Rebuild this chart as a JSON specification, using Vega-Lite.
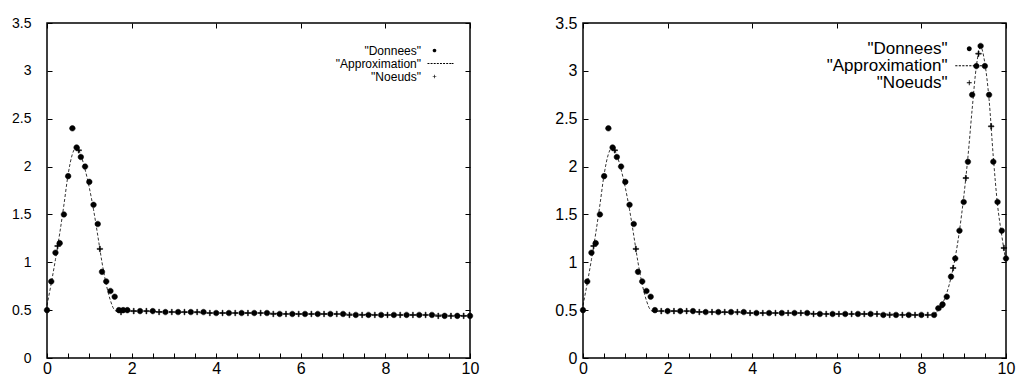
{
  "$schema": "https://vega.github.io/schema/vega-lite/v6.json",
  "padding": {"left": 10, "top": 14, "right": 0, "bottom": 2},
  "config": {
    "font": "Liberation Sans",
    "view": {"stroke": "black", "strokeWidth": 1.5},
    "axis": {"grid": false, "domain": false, "title": null, "tickColor": "black", "tickWidth": 1, "labelColor": "black", "labelFont": "Liberation Sans"}
  },
  "spacing": 74,
  "resolve": {"scale": {"shape": "independent"}, "legend": {"shape": "independent"}},
  "datasets": {
    "pts": [
      {"panel": "L", "series": "\"Donnees\"", "x": 0, "y": 0.5},
      {"panel": "L", "series": "\"Donnees\"", "x": 0.1, "y": 0.8},
      {"panel": "L", "series": "\"Donnees\"", "x": 0.2, "y": 1.1},
      {"panel": "L", "series": "\"Donnees\"", "x": 0.3, "y": 1.2},
      {"panel": "L", "series": "\"Donnees\"", "x": 0.4, "y": 1.5},
      {"panel": "L", "series": "\"Donnees\"", "x": 0.5, "y": 1.9},
      {"panel": "L", "series": "\"Donnees\"", "x": 0.6, "y": 2.4},
      {"panel": "L", "series": "\"Donnees\"", "x": 0.7, "y": 2.2},
      {"panel": "L", "series": "\"Donnees\"", "x": 0.8, "y": 2.1},
      {"panel": "L", "series": "\"Donnees\"", "x": 0.9, "y": 2.0},
      {"panel": "L", "series": "\"Donnees\"", "x": 1.0, "y": 1.84},
      {"panel": "L", "series": "\"Donnees\"", "x": 1.1, "y": 1.6},
      {"panel": "L", "series": "\"Donnees\"", "x": 1.2, "y": 1.4},
      {"panel": "L", "series": "\"Donnees\"", "x": 1.3, "y": 0.9},
      {"panel": "L", "series": "\"Donnees\"", "x": 1.4, "y": 0.8},
      {"panel": "L", "series": "\"Donnees\"", "x": 1.5, "y": 0.7},
      {"panel": "L", "series": "\"Donnees\"", "x": 1.6, "y": 0.64},
      {"panel": "L", "series": "\"Donnees\"", "x": 1.7, "y": 0.5},
      {"panel": "L", "series": "\"Donnees\"", "x": 1.8, "y": 0.5},
      {"panel": "L", "series": "\"Donnees\"", "x": 1.9, "y": 0.5},
      {"panel": "L", "series": "\"Donnees\"", "x": 2.2, "y": 0.49},
      {"panel": "L", "series": "\"Donnees\"", "x": 2.5, "y": 0.49},
      {"panel": "L", "series": "\"Donnees\"", "x": 2.8, "y": 0.48},
      {"panel": "L", "series": "\"Donnees\"", "x": 3.1, "y": 0.48},
      {"panel": "L", "series": "\"Donnees\"", "x": 3.4, "y": 0.48},
      {"panel": "L", "series": "\"Donnees\"", "x": 3.7, "y": 0.48},
      {"panel": "L", "series": "\"Donnees\"", "x": 4.0, "y": 0.47},
      {"panel": "L", "series": "\"Donnees\"", "x": 4.3, "y": 0.47},
      {"panel": "L", "series": "\"Donnees\"", "x": 4.6, "y": 0.47},
      {"panel": "L", "series": "\"Donnees\"", "x": 4.9, "y": 0.47},
      {"panel": "L", "series": "\"Donnees\"", "x": 5.2, "y": 0.47},
      {"panel": "L", "series": "\"Donnees\"", "x": 5.5, "y": 0.46},
      {"panel": "L", "series": "\"Donnees\"", "x": 5.8, "y": 0.46},
      {"panel": "L", "series": "\"Donnees\"", "x": 6.1, "y": 0.46},
      {"panel": "L", "series": "\"Donnees\"", "x": 6.4, "y": 0.46},
      {"panel": "L", "series": "\"Donnees\"", "x": 6.7, "y": 0.46},
      {"panel": "L", "series": "\"Donnees\"", "x": 7.0, "y": 0.46},
      {"panel": "L", "series": "\"Donnees\"", "x": 7.3, "y": 0.45},
      {"panel": "L", "series": "\"Donnees\"", "x": 7.6, "y": 0.45},
      {"panel": "L", "series": "\"Donnees\"", "x": 7.9, "y": 0.45},
      {"panel": "L", "series": "\"Donnees\"", "x": 8.2, "y": 0.45},
      {"panel": "L", "series": "\"Donnees\"", "x": 8.5, "y": 0.45},
      {"panel": "L", "series": "\"Donnees\"", "x": 8.8, "y": 0.45},
      {"panel": "L", "series": "\"Donnees\"", "x": 9.1, "y": 0.45},
      {"panel": "L", "series": "\"Donnees\"", "x": 9.4, "y": 0.44},
      {"panel": "L", "series": "\"Donnees\"", "x": 9.7, "y": 0.44},
      {"panel": "L", "series": "\"Donnees\"", "x": 10.0, "y": 0.44},
      {"panel": "L", "series": "\"Noeuds\"", "x": 0.25, "y": 1.17},
      {"panel": "L", "series": "\"Noeuds\"", "x": 0.75, "y": 2.17},
      {"panel": "L", "series": "\"Noeuds\"", "x": 1.25, "y": 1.14},
      {"panel": "L", "series": "\"Noeuds\"", "x": 1.75, "y": 0.48},
      {"panel": "L", "series": "\"Noeuds\"", "x": 2.05, "y": 0.49},
      {"panel": "L", "series": "\"Noeuds\"", "x": 2.35, "y": 0.49},
      {"panel": "L", "series": "\"Noeuds\"", "x": 2.65, "y": 0.48},
      {"panel": "L", "series": "\"Noeuds\"", "x": 2.95, "y": 0.48},
      {"panel": "L", "series": "\"Noeuds\"", "x": 3.25, "y": 0.48},
      {"panel": "L", "series": "\"Noeuds\"", "x": 3.55, "y": 0.48},
      {"panel": "L", "series": "\"Noeuds\"", "x": 3.85, "y": 0.47},
      {"panel": "L", "series": "\"Noeuds\"", "x": 4.15, "y": 0.47},
      {"panel": "L", "series": "\"Noeuds\"", "x": 4.45, "y": 0.47},
      {"panel": "L", "series": "\"Noeuds\"", "x": 4.75, "y": 0.47},
      {"panel": "L", "series": "\"Noeuds\"", "x": 5.05, "y": 0.47},
      {"panel": "L", "series": "\"Noeuds\"", "x": 5.35, "y": 0.46},
      {"panel": "L", "series": "\"Noeuds\"", "x": 5.65, "y": 0.46},
      {"panel": "L", "series": "\"Noeuds\"", "x": 5.95, "y": 0.46},
      {"panel": "L", "series": "\"Noeuds\"", "x": 6.25, "y": 0.46},
      {"panel": "L", "series": "\"Noeuds\"", "x": 6.55, "y": 0.46},
      {"panel": "L", "series": "\"Noeuds\"", "x": 6.85, "y": 0.46},
      {"panel": "L", "series": "\"Noeuds\"", "x": 7.15, "y": 0.45},
      {"panel": "L", "series": "\"Noeuds\"", "x": 7.45, "y": 0.45},
      {"panel": "L", "series": "\"Noeuds\"", "x": 7.75, "y": 0.45},
      {"panel": "L", "series": "\"Noeuds\"", "x": 8.05, "y": 0.45},
      {"panel": "L", "series": "\"Noeuds\"", "x": 8.35, "y": 0.45},
      {"panel": "L", "series": "\"Noeuds\"", "x": 8.65, "y": 0.45},
      {"panel": "L", "series": "\"Noeuds\"", "x": 8.95, "y": 0.45},
      {"panel": "L", "series": "\"Noeuds\"", "x": 9.25, "y": 0.44},
      {"panel": "L", "series": "\"Noeuds\"", "x": 9.55, "y": 0.44},
      {"panel": "L", "series": "\"Noeuds\"", "x": 9.85, "y": 0.44},
      {"panel": "R", "series": "\"Donnees\"", "x": 0, "y": 0.5},
      {"panel": "R", "series": "\"Donnees\"", "x": 0.1, "y": 0.8},
      {"panel": "R", "series": "\"Donnees\"", "x": 0.2, "y": 1.1},
      {"panel": "R", "series": "\"Donnees\"", "x": 0.3, "y": 1.2},
      {"panel": "R", "series": "\"Donnees\"", "x": 0.4, "y": 1.5},
      {"panel": "R", "series": "\"Donnees\"", "x": 0.5, "y": 1.9},
      {"panel": "R", "series": "\"Donnees\"", "x": 0.6, "y": 2.4},
      {"panel": "R", "series": "\"Donnees\"", "x": 0.7, "y": 2.2},
      {"panel": "R", "series": "\"Donnees\"", "x": 0.8, "y": 2.1},
      {"panel": "R", "series": "\"Donnees\"", "x": 0.9, "y": 2.0},
      {"panel": "R", "series": "\"Donnees\"", "x": 1.0, "y": 1.84},
      {"panel": "R", "series": "\"Donnees\"", "x": 1.1, "y": 1.6},
      {"panel": "R", "series": "\"Donnees\"", "x": 1.2, "y": 1.4},
      {"panel": "R", "series": "\"Donnees\"", "x": 1.3, "y": 0.9},
      {"panel": "R", "series": "\"Donnees\"", "x": 1.4, "y": 0.8},
      {"panel": "R", "series": "\"Donnees\"", "x": 1.5, "y": 0.7},
      {"panel": "R", "series": "\"Donnees\"", "x": 1.6, "y": 0.64},
      {"panel": "R", "series": "\"Donnees\"", "x": 1.7, "y": 0.5},
      {"panel": "R", "series": "\"Donnees\"", "x": 2.0, "y": 0.49},
      {"panel": "R", "series": "\"Donnees\"", "x": 2.3, "y": 0.49},
      {"panel": "R", "series": "\"Donnees\"", "x": 2.6, "y": 0.49},
      {"panel": "R", "series": "\"Donnees\"", "x": 2.9, "y": 0.48},
      {"panel": "R", "series": "\"Donnees\"", "x": 3.2, "y": 0.48},
      {"panel": "R", "series": "\"Donnees\"", "x": 3.5, "y": 0.48},
      {"panel": "R", "series": "\"Donnees\"", "x": 3.8, "y": 0.48},
      {"panel": "R", "series": "\"Donnees\"", "x": 4.1, "y": 0.47},
      {"panel": "R", "series": "\"Donnees\"", "x": 4.4, "y": 0.47},
      {"panel": "R", "series": "\"Donnees\"", "x": 4.7, "y": 0.47},
      {"panel": "R", "series": "\"Donnees\"", "x": 5.0, "y": 0.47},
      {"panel": "R", "series": "\"Donnees\"", "x": 5.3, "y": 0.47},
      {"panel": "R", "series": "\"Donnees\"", "x": 5.6, "y": 0.46},
      {"panel": "R", "series": "\"Donnees\"", "x": 5.9, "y": 0.46},
      {"panel": "R", "series": "\"Donnees\"", "x": 6.2, "y": 0.46},
      {"panel": "R", "series": "\"Donnees\"", "x": 6.5, "y": 0.46},
      {"panel": "R", "series": "\"Donnees\"", "x": 6.8, "y": 0.46},
      {"panel": "R", "series": "\"Donnees\"", "x": 7.1, "y": 0.45},
      {"panel": "R", "series": "\"Donnees\"", "x": 7.4, "y": 0.45},
      {"panel": "R", "series": "\"Donnees\"", "x": 7.7, "y": 0.45},
      {"panel": "R", "series": "\"Donnees\"", "x": 8.0, "y": 0.45},
      {"panel": "R", "series": "\"Donnees\"", "x": 8.3, "y": 0.45},
      {"panel": "R", "series": "\"Donnees\"", "x": 8.4, "y": 0.52},
      {"panel": "R", "series": "\"Donnees\"", "x": 8.5, "y": 0.56},
      {"panel": "R", "series": "\"Donnees\"", "x": 8.6, "y": 0.64},
      {"panel": "R", "series": "\"Donnees\"", "x": 8.7, "y": 0.85},
      {"panel": "R", "series": "\"Donnees\"", "x": 8.8, "y": 1.04},
      {"panel": "R", "series": "\"Donnees\"", "x": 8.9, "y": 1.33},
      {"panel": "R", "series": "\"Donnees\"", "x": 9.0, "y": 1.63},
      {"panel": "R", "series": "\"Donnees\"", "x": 9.1, "y": 2.05},
      {"panel": "R", "series": "\"Donnees\"", "x": 9.2, "y": 2.75},
      {"panel": "R", "series": "\"Donnees\"", "x": 9.3, "y": 3.05},
      {"panel": "R", "series": "\"Donnees\"", "x": 9.4, "y": 3.26},
      {"panel": "R", "series": "\"Donnees\"", "x": 9.5, "y": 3.05},
      {"panel": "R", "series": "\"Donnees\"", "x": 9.6, "y": 2.75},
      {"panel": "R", "series": "\"Donnees\"", "x": 9.7, "y": 2.05},
      {"panel": "R", "series": "\"Donnees\"", "x": 9.8, "y": 1.63},
      {"panel": "R", "series": "\"Donnees\"", "x": 9.9, "y": 1.33},
      {"panel": "R", "series": "\"Donnees\"", "x": 10.0, "y": 1.04},
      {"panel": "R", "series": "\"Noeuds\"", "x": 0.25, "y": 1.17},
      {"panel": "R", "series": "\"Noeuds\"", "x": 0.75, "y": 2.17},
      {"panel": "R", "series": "\"Noeuds\"", "x": 1.25, "y": 1.14},
      {"panel": "R", "series": "\"Noeuds\"", "x": 1.85, "y": 0.49},
      {"panel": "R", "series": "\"Noeuds\"", "x": 2.15, "y": 0.49},
      {"panel": "R", "series": "\"Noeuds\"", "x": 2.45, "y": 0.49},
      {"panel": "R", "series": "\"Noeuds\"", "x": 2.75, "y": 0.48},
      {"panel": "R", "series": "\"Noeuds\"", "x": 3.05, "y": 0.48},
      {"panel": "R", "series": "\"Noeuds\"", "x": 3.35, "y": 0.48},
      {"panel": "R", "series": "\"Noeuds\"", "x": 3.65, "y": 0.48},
      {"panel": "R", "series": "\"Noeuds\"", "x": 3.95, "y": 0.47},
      {"panel": "R", "series": "\"Noeuds\"", "x": 4.25, "y": 0.47},
      {"panel": "R", "series": "\"Noeuds\"", "x": 4.55, "y": 0.47},
      {"panel": "R", "series": "\"Noeuds\"", "x": 4.85, "y": 0.47},
      {"panel": "R", "series": "\"Noeuds\"", "x": 5.15, "y": 0.47},
      {"panel": "R", "series": "\"Noeuds\"", "x": 5.45, "y": 0.46},
      {"panel": "R", "series": "\"Noeuds\"", "x": 5.75, "y": 0.46},
      {"panel": "R", "series": "\"Noeuds\"", "x": 6.05, "y": 0.46},
      {"panel": "R", "series": "\"Noeuds\"", "x": 6.35, "y": 0.46},
      {"panel": "R", "series": "\"Noeuds\"", "x": 6.65, "y": 0.46},
      {"panel": "R", "series": "\"Noeuds\"", "x": 6.95, "y": 0.46},
      {"panel": "R", "series": "\"Noeuds\"", "x": 7.25, "y": 0.45},
      {"panel": "R", "series": "\"Noeuds\"", "x": 7.55, "y": 0.45},
      {"panel": "R", "series": "\"Noeuds\"", "x": 7.85, "y": 0.45},
      {"panel": "R", "series": "\"Noeuds\"", "x": 8.15, "y": 0.45},
      {"panel": "R", "series": "\"Noeuds\"", "x": 8.45, "y": 0.53},
      {"panel": "R", "series": "\"Noeuds\"", "x": 8.75, "y": 0.94},
      {"panel": "R", "series": "\"Noeuds\"", "x": 9.05, "y": 1.88},
      {"panel": "R", "series": "\"Noeuds\"", "x": 9.35, "y": 3.18},
      {"panel": "R", "series": "\"Noeuds\"", "x": 9.65, "y": 2.42},
      {"panel": "R", "series": "\"Noeuds\"", "x": 9.95, "y": 1.15}
    ],
    "curve": [
      {"panel": "L", "x": 0, "y": 0.55},
      {"panel": "L", "x": 0.1, "y": 0.78},
      {"panel": "L", "x": 0.2, "y": 1.03},
      {"panel": "L", "x": 0.3, "y": 1.3},
      {"panel": "L", "x": 0.4, "y": 1.6},
      {"panel": "L", "x": 0.5, "y": 1.92},
      {"panel": "L", "x": 0.6, "y": 2.13},
      {"panel": "L", "x": 0.7, "y": 2.2},
      {"panel": "L", "x": 0.8, "y": 2.12},
      {"panel": "L", "x": 0.9, "y": 1.97},
      {"panel": "L", "x": 1.0, "y": 1.78},
      {"panel": "L", "x": 1.1, "y": 1.55},
      {"panel": "L", "x": 1.2, "y": 1.28},
      {"panel": "L", "x": 1.3, "y": 1.0},
      {"panel": "L", "x": 1.4, "y": 0.77},
      {"panel": "L", "x": 1.5, "y": 0.6},
      {"panel": "L", "x": 1.6, "y": 0.5},
      {"panel": "L", "x": 1.7, "y": 0.48},
      {"panel": "L", "x": 1.8, "y": 0.49},
      {"panel": "L", "x": 2.0, "y": 0.49},
      {"panel": "L", "x": 3.0, "y": 0.48},
      {"panel": "L", "x": 4.0, "y": 0.47},
      {"panel": "L", "x": 5.0, "y": 0.47},
      {"panel": "L", "x": 6.0, "y": 0.46},
      {"panel": "L", "x": 7.0, "y": 0.46},
      {"panel": "L", "x": 8.0, "y": 0.45},
      {"panel": "L", "x": 9.0, "y": 0.45},
      {"panel": "L", "x": 10.0, "y": 0.44},
      {"panel": "R", "x": 0, "y": 0.55},
      {"panel": "R", "x": 0.1, "y": 0.78},
      {"panel": "R", "x": 0.2, "y": 1.03},
      {"panel": "R", "x": 0.3, "y": 1.3},
      {"panel": "R", "x": 0.4, "y": 1.6},
      {"panel": "R", "x": 0.5, "y": 1.92},
      {"panel": "R", "x": 0.6, "y": 2.13},
      {"panel": "R", "x": 0.7, "y": 2.2},
      {"panel": "R", "x": 0.8, "y": 2.12},
      {"panel": "R", "x": 0.9, "y": 1.97},
      {"panel": "R", "x": 1.0, "y": 1.78},
      {"panel": "R", "x": 1.1, "y": 1.55},
      {"panel": "R", "x": 1.2, "y": 1.28},
      {"panel": "R", "x": 1.3, "y": 1.0},
      {"panel": "R", "x": 1.4, "y": 0.77},
      {"panel": "R", "x": 1.5, "y": 0.6},
      {"panel": "R", "x": 1.6, "y": 0.5},
      {"panel": "R", "x": 1.7, "y": 0.48},
      {"panel": "R", "x": 1.8, "y": 0.49},
      {"panel": "R", "x": 2.0, "y": 0.49},
      {"panel": "R", "x": 3.0, "y": 0.48},
      {"panel": "R", "x": 4.0, "y": 0.47},
      {"panel": "R", "x": 5.0, "y": 0.47},
      {"panel": "R", "x": 6.0, "y": 0.46},
      {"panel": "R", "x": 7.0, "y": 0.46},
      {"panel": "R", "x": 8.0, "y": 0.45},
      {"panel": "R", "x": 8.2, "y": 0.45},
      {"panel": "R", "x": 8.3, "y": 0.46},
      {"panel": "R", "x": 8.4, "y": 0.5},
      {"panel": "R", "x": 8.5, "y": 0.57},
      {"panel": "R", "x": 8.6, "y": 0.68},
      {"panel": "R", "x": 8.7, "y": 0.84},
      {"panel": "R", "x": 8.8, "y": 1.05},
      {"panel": "R", "x": 8.9, "y": 1.33},
      {"panel": "R", "x": 9.0, "y": 1.68},
      {"panel": "R", "x": 9.1, "y": 2.1},
      {"panel": "R", "x": 9.2, "y": 2.6},
      {"panel": "R", "x": 9.3, "y": 3.05},
      {"panel": "R", "x": 9.4, "y": 3.25},
      {"panel": "R", "x": 9.5, "y": 3.08},
      {"panel": "R", "x": 9.6, "y": 2.7},
      {"panel": "R", "x": 9.7, "y": 2.1},
      {"panel": "R", "x": 9.8, "y": 1.6},
      {"panel": "R", "x": 9.9, "y": 1.28},
      {"panel": "R", "x": 10.0, "y": 1.0}
    ]
  },
  "hconcat": [
    {
      "width": 423,
      "height": 335,
      "resolve": {"axis": {"x": "independent", "y": "independent"}},
      "layer": [
        {
          "data": {"name": "curve"},
          "transform": [{"filter": "datum.panel === 'L'"}],
          "mark": {"type": "line", "interpolate": "monotone", "color": "black", "strokeWidth": 0.8, "strokeDash": [3, 2]},
          "encoding": {
            "x": {"field": "x", "type": "quantitative", "scale": {"domain": [0, 10], "nice": false},
              "axis": {"orient": "top", "values": [0, 2, 4, 6, 8, 10], "labels": false, "tickSize": -5}},
            "y": {"field": "y", "type": "quantitative", "scale": {"domain": [0, 3.5], "nice": false},
              "axis": {"orient": "right", "values": [0, 0.5, 1, 1.5, 2, 2.5, 3, 3.5], "labels": false, "tickSize": -5}}
          }
        },
        {
          "data": {"name": "pts"},
          "transform": [{"filter": "datum.panel === 'L'"}],
          "mark": {"type": "point", "filled": true, "opacity": 1, "size": 400, "fill": "black", "stroke": "black", "strokeWidth": 0.5},
          "encoding": {
            "x": {"field": "x", "type": "quantitative", "scale": {"domain": [0, 10], "nice": false},
              "axis": {"orient": "bottom", "values": [0, 0.5, 1, 1.5, 2, 2.5, 3, 3.5, 4, 4.5, 5, 5.5, 6, 6.5, 7, 7.5, 8, 8.5, 9, 9.5, 10],
                "labelExpr": "datum.value % 2 === 0 ? format(datum.value, '~g') : ''", "tickSize": -5, "labelPadding": 7, "labelFontSize": 16, "labelFlush": false}},
            "y": {"field": "y", "type": "quantitative", "scale": {"domain": [0, 3.5], "nice": false},
              "axis": {"orient": "left", "values": [0, 0.5, 1, 1.5, 2, 2.5, 3, 3.5], "format": "~g", "tickSize": -5, "labelPadding": 21, "labelFontSize": 14, "labelFlush": false}},
            "shape": {"field": "series", "type": "nominal",
              "scale": {"domain": ["\"Donnees\"", "\"Approximation\"", "\"Noeuds\""],
                "range": [
                  "M-0.28,0A0.28,0.28 0 1,0 0.28,0A0.28,0.28 0 1,0 -0.28,0Z",
                  "M-1.08,-0.06H-0.78V0.06H-1.08ZM-0.6,-0.06H-0.3V0.06H-0.6ZM-0.12,-0.06H0.18V0.06H-0.12ZM0.36,-0.06H0.66V0.06H0.36ZM0.84,-0.06H1.14V0.06H0.84ZM1.32,-0.06H1.62V0.06H1.32ZM1.8,-0.06H2.1V0.06H1.8ZM2.28,-0.06H2.58V0.06H2.28ZM2.66,-0.06H2.92V0.06H2.66Z",
                  "M-0.28,-0.05H0.28V0.05H-0.28ZM-0.05,-0.28H0.05V0.28H-0.05Z"]},
              "legend": {"title": null, "orient": "none", "legendX": 380.5, "legendY": 20.5, "labelAlign": "right", "labelOffset": -20.5,
                "labelFontSize": 12, "labelColor": "black", "labelFont": "Liberation Sans", "labelLimit": 400, "symbolSize": 169,
                "rowPadding": 0, "labelBaseline": "middle",
                "symbolFillColor": "black", "symbolStrokeColor": "black", "symbolStrokeWidth": 0.5, "symbolOpacity": 1}}
          }
        }
      ]
    },
    {
      "width": 423,
      "height": 335,
      "resolve": {"axis": {"x": "independent", "y": "independent"}},
      "layer": [
        {
          "data": {"name": "curve"},
          "transform": [{"filter": "datum.panel === 'R'"}],
          "mark": {"type": "line", "interpolate": "monotone", "color": "black", "strokeWidth": 0.8, "strokeDash": [3, 2]},
          "encoding": {
            "x": {"field": "x", "type": "quantitative", "scale": {"domain": [0, 10], "nice": false},
              "axis": {"orient": "top", "values": [0, 2, 4, 6, 8, 10], "labels": false, "tickSize": -5}},
            "y": {"field": "y", "type": "quantitative", "scale": {"domain": [0, 3.5], "nice": false},
              "axis": {"orient": "right", "values": [0, 0.5, 1, 1.5, 2, 2.5, 3, 3.5], "labels": false, "tickSize": -5}}
          }
        },
        {
          "data": {"name": "pts"},
          "transform": [{"filter": "datum.panel === 'R'"}],
          "mark": {"type": "point", "filled": true, "opacity": 1, "size": 400, "fill": "black", "stroke": "black", "strokeWidth": 0.5},
          "encoding": {
            "x": {"field": "x", "type": "quantitative", "scale": {"domain": [0, 10], "nice": false},
              "axis": {"orient": "bottom", "values": [0, 0.5, 1, 1.5, 2, 2.5, 3, 3.5, 4, 4.5, 5, 5.5, 6, 6.5, 7, 7.5, 8, 8.5, 9, 9.5, 10],
                "labelExpr": "datum.value % 2 === 0 ? format(datum.value, '~g') : ''", "tickSize": -5, "labelPadding": 7, "labelFontSize": 16, "labelFlush": false}},
            "y": {"field": "y", "type": "quantitative", "scale": {"domain": [0, 3.5], "nice": false},
              "axis": {"orient": "left", "values": [0, 0.5, 1, 1.5, 2, 2.5, 3, 3.5], "format": "~g", "tickSize": -5, "labelPadding": 11, "labelFontSize": 16, "labelFlush": false}},
            "shape": {"field": "series", "type": "nominal",
              "scale": {"domain": ["\"Donnees\"", "\"Approximation\"", "\"Noeuds\""],
                "range": [
                  "M-0.28,0A0.28,0.28 0 1,0 0.28,0A0.28,0.28 0 1,0 -0.28,0Z",
                  "M-1.6,-0.05H-1.35V0.05H-1.6ZM-1.2,-0.05H-0.95V0.05H-1.2ZM-0.8,-0.05H-0.55V0.05H-0.8ZM-0.4,-0.05H-0.15V0.05H-0.4ZM0,-0.05H0.25V0.05H0ZM0.4,-0.05H0.65V0.05H0.4ZM0.8,-0.05H1.05V0.05H0.8ZM1.2,-0.05H1.45V0.05H1.2ZM1.6,-0.05H1.83V0.05H1.6Z",
                  "M-0.28,-0.05H0.28V0.05H-0.28ZM-0.05,-0.28H0.05V0.28H-0.05Z"]},
              "legend": {"title": null, "orient": "none", "legendX": 377.25, "legendY": 16.75, "labelAlign": "right", "labelOffset": -30.75,
                "labelFontSize": 17, "labelColor": "black", "labelFont": "Liberation Sans", "labelLimit": 400, "symbolSize": 306,
                "rowPadding": 0, "labelBaseline": "middle",
                "symbolFillColor": "black", "symbolStrokeColor": "black", "symbolStrokeWidth": 0.5, "symbolOpacity": 1}}
          }
        }
      ]
    }
  ]
}
